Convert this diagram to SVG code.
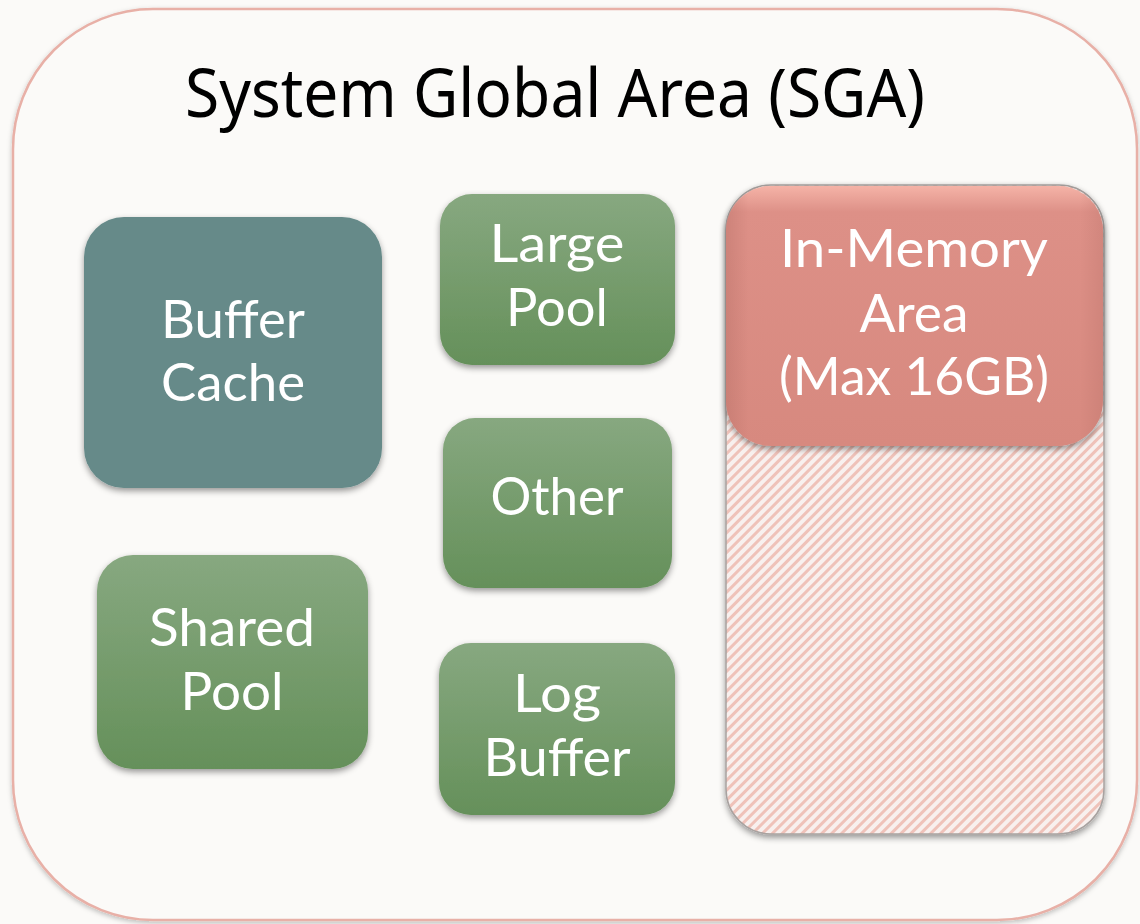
<svg xmlns="http://www.w3.org/2000/svg" width="1140" height="924" viewBox="0 0 1140 924">
<style>
.lbl{font-family:Lato,"Noto Sans","Liberation Sans",sans-serif;font-size:52px;fill:#ffffff;text-anchor:middle}
.title{font-family:"Noto Sans","Open Sans","Liberation Sans",sans-serif;font-size:68px;fill:#000000;text-anchor:middle}
.green{fill:url(#gGreen);filter:url(#shadow)}
</style>
<defs>
<linearGradient id="gGreen" x1="0" y1="0" x2="0" y2="1">
<stop offset="0" stop-color="#87a880"/>
<stop offset="1" stop-color="#65905a"/>
</linearGradient>
<linearGradient id="gRed" x1="0" y1="0" x2="0" y2="1">
<stop offset="0" stop-color="#f5b3a7"/>
<stop offset="0.1" stop-color="#dd9087"/>
<stop offset="1" stop-color="#d7897f"/>
</linearGradient>
<linearGradient id="gRedSide" x1="0" y1="0" x2="1" y2="0">
<stop offset="0" stop-color="#b06a62" stop-opacity="0.35"/>
<stop offset="0.06" stop-color="#b06a62" stop-opacity="0"/>
<stop offset="0.94" stop-color="#b06a62" stop-opacity="0"/>
<stop offset="1" stop-color="#b06a62" stop-opacity="0.25"/>
</linearGradient>
<pattern id="hatch" patternUnits="userSpaceOnUse" width="7" height="7" patternTransform="rotate(45)">
<rect width="7" height="7" fill="#f8f0ee"/>
<rect width="3" height="7" fill="#efc2b9"/>
</pattern>
<filter id="shadow" x="-10%" y="-10%" width="120%" height="125%">
<feDropShadow dx="0" dy="3" stdDeviation="3" flood-color="#000" flood-opacity="0.4"/>
</filter>
<filter id="soft" x="-5%" y="-5%" width="110%" height="110%">
<feDropShadow dx="0" dy="2" stdDeviation="2.5" flood-color="#000" flood-opacity="0.25"/>
</filter>
</defs>
<rect x="0" y="0" width="1140" height="924" fill="#fbfaf8"/>
<g id="sga">
<rect x="13" y="9" width="1124" height="911" rx="140" ry="140" fill="#fbfaf8" stroke="#e8b0a7" stroke-width="2.5" filter="url(#soft)"/>
<text class="title" x="555" y="117" textLength="740" lengthAdjust="spacingAndGlyphs">System Global Area (SGA)</text>
</g>
<g id="connectors"></g>
<g id="buffer-cache">
<rect x="84" y="217" width="298" height="271" rx="40" fill="#668a89" filter="url(#shadow)"/>
<text class="lbl" x="233" y="338" textLength="144" lengthAdjust="spacingAndGlyphs">Buffer</text>
<text class="lbl" x="233" y="401" textLength="144" lengthAdjust="spacingAndGlyphs">Cache</text>
</g>
<g id="shared-pool">
<rect class="green" x="97" y="555" width="271" height="214" rx="36"/>
<text class="lbl" x="232" y="646" textLength="166" lengthAdjust="spacingAndGlyphs">Shared</text>
<text class="lbl" x="232" y="710" textLength="103" lengthAdjust="spacingAndGlyphs">Pool</text>
</g>
<g id="large-pool">
<rect class="green" x="440" y="194" width="235" height="171" rx="32"/>
<text class="lbl" x="557" y="262" textLength="135" lengthAdjust="spacingAndGlyphs">Large</text>
<text class="lbl" x="557" y="326" textLength="102" lengthAdjust="spacingAndGlyphs">Pool</text>
</g>
<g id="other">
<rect class="green" x="443" y="418" width="229" height="170" rx="32"/>
<text class="lbl" x="557" y="515" textLength="133" lengthAdjust="spacingAndGlyphs">Other</text>
</g>
<g id="log-buffer">
<rect class="green" x="439" y="643" width="236" height="172" rx="32"/>
<text class="lbl" x="557" y="712" textLength="88" lengthAdjust="spacingAndGlyphs">Log</text>
<text class="lbl" x="557" y="776" textLength="147" lengthAdjust="spacingAndGlyphs">Buffer</text>
</g>
<g id="in-memory">
<rect x="726" y="185" width="378" height="649" rx="45" fill="url(#hatch)" stroke="#a8a2a0" stroke-width="1.5" filter="url(#shadow)"/>
<rect x="726" y="186" width="377" height="260" rx="45" fill="url(#gRed)" filter="url(#shadow)"/>
<rect x="726" y="186" width="377" height="260" rx="45" fill="url(#gRedSide)"/>
<text class="lbl" x="914" y="267" textLength="268" lengthAdjust="spacingAndGlyphs">In-Memory</text>
<text class="lbl" x="914" y="332" textLength="109" lengthAdjust="spacingAndGlyphs">Area</text>
<text class="lbl" x="914" y="395" textLength="270" lengthAdjust="spacingAndGlyphs">(Max 16GB)</text>
</g>
</svg>
